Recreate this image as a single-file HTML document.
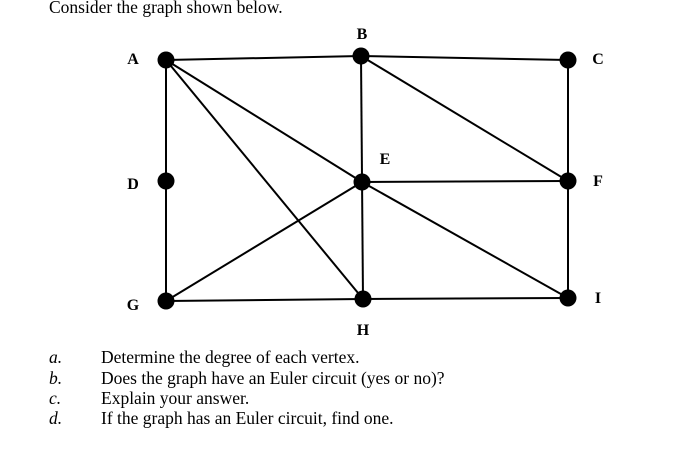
<!DOCTYPE html>
<html><head><meta charset="utf-8"><style>
html,body{margin:0;padding:0;background:#fff;width:678px;height:464px;overflow:hidden}
svg{display:block}
text{font-family:"Liberation Serif",serif;fill:#000}
</style></head><body>
<svg width="678" height="464" viewBox="0 0 678 464" xmlns="http://www.w3.org/2000/svg">
<text x="49" y="13" font-size="17.5">Consider the graph shown below.</text>
<g stroke="#000" stroke-width="2" fill="none">
<line x1="166" y1="60" x2="361" y2="56"/>
<line x1="361" y1="56" x2="568" y2="60"/>
<line x1="166" y1="60" x2="166" y2="301"/>
<line x1="166" y1="60" x2="362" y2="182"/>
<line x1="166" y1="60" x2="363" y2="299"/>
<line x1="361" y1="56" x2="363" y2="299"/>
<line x1="361" y1="56" x2="568" y2="181"/>
<line x1="568" y1="60" x2="568" y2="298"/>
<line x1="362" y1="182" x2="568" y2="181"/>
<line x1="362" y1="182" x2="166" y2="301"/>
<line x1="362" y1="182" x2="568" y2="298"/>
<line x1="166" y1="301" x2="363" y2="299"/>
<line x1="363" y1="299" x2="568" y2="298"/>
</g>
<g fill="#000">
<circle cx="166" cy="60" r="8.5"/>
<circle cx="361" cy="56" r="8.5"/>
<circle cx="568" cy="60" r="8.5"/>
<circle cx="166" cy="181" r="8.5"/>
<circle cx="362" cy="182" r="8.5"/>
<circle cx="568" cy="181" r="8.5"/>
<circle cx="166" cy="301" r="8.5"/>
<circle cx="363" cy="299" r="8.5"/>
<circle cx="568" cy="298" r="8.5"/>
</g>
<g font-size="16" font-weight="bold" text-anchor="middle">
<text x="133" y="64">A</text>
<text x="362" y="39">B</text>
<text x="598" y="64">C</text>
<text x="133" y="189">D</text>
<text x="385" y="164">E</text>
<text x="598" y="186">F</text>
<text x="133" y="310">G</text>
<text x="363" y="335">H</text>
<text x="598" y="303">I</text>
</g>
<g font-size="17.5">
<text x="49" y="363" font-style="italic">a.</text>
<text x="49" y="384" font-style="italic">b.</text>
<text x="49" y="404" font-style="italic">c.</text>
<text x="49" y="424" font-style="italic">d.</text>
<text x="101" y="363">Determine the degree of each vertex.</text>
<text x="101" y="384">Does the graph have an Euler circuit (yes or no)?</text>
<text x="101" y="404">Explain your answer.</text>
<text x="101" y="424">If the graph has an Euler circuit, find one.</text>
</g>
</svg>
</body></html>
